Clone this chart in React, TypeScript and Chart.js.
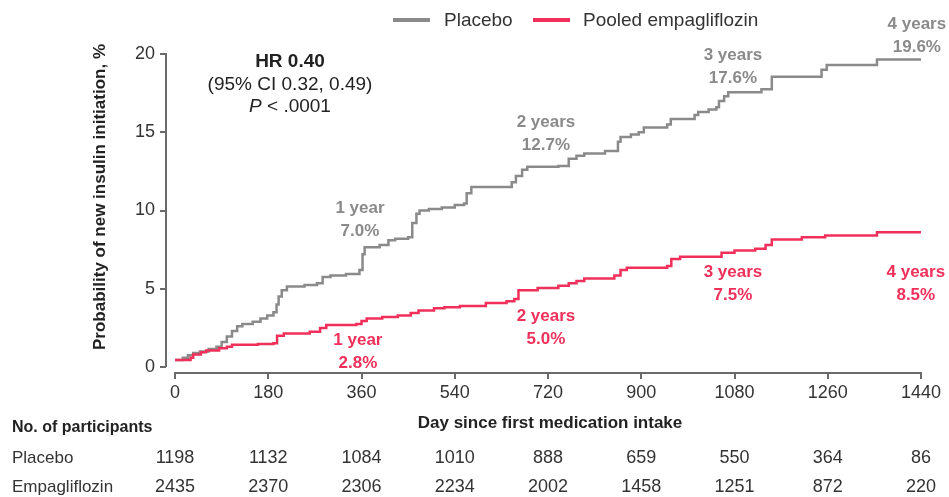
import React, { useEffect, useRef } from 'react';
import { Chart, registerables } from 'chart.js';

Chart.register(...registerables);

// ---- Data ----
const placeboDays = [0, 15, 25, 35, 48, 65, 80, 90, 100, 110, 120, 130, 150, 165, 178, 190, 196, 200, 206, 216, 250, 274, 285, 300, 330, 356, 362, 366, 395, 412, 425, 450, 458, 466, 472, 490, 515, 540, 558, 563, 572, 650, 658, 670, 680, 740, 760, 775, 790, 830, 855, 860, 880, 895, 905, 950, 957, 1003, 1010, 1030, 1045, 1050, 1060, 1068, 1132, 1152, 1248, 1258, 1355, 1440];
const placeboValues = [0.45, 0.6, 0.75, 0.9, 1.0, 1.15, 1.3, 1.6, 1.95, 2.3, 2.6, 2.75, 2.9, 3.1, 3.3, 3.5, 4.0, 4.5, 4.9, 5.15, 5.25, 5.35, 5.75, 5.85, 5.95, 6.2, 7.2, 7.65, 7.8, 8.1, 8.2, 8.3, 9.2, 9.8, 10.0, 10.1, 10.2, 10.35, 10.45, 11.1, 11.5, 11.8, 12.2, 12.6, 12.8, 12.85, 13.3, 13.5, 13.65, 13.8, 14.4, 14.7, 14.85, 15.0, 15.3, 15.5, 15.85, 16.1, 16.3, 16.45, 16.6, 17.0, 17.3, 17.55, 17.75, 18.55, 19.0, 19.3, 19.65, 19.65];

const empaDays = [0, 30, 35, 50, 60, 85, 100, 110, 160, 190, 197, 210, 260, 280, 292, 350, 360, 370, 400, 430, 455, 470, 500, 520, 550, 600, 640, 655, 663, 700, 740, 760, 775, 790, 848, 860, 872, 950, 958, 975, 1055, 1080, 1120, 1140, 1152, 1210, 1255, 1355, 1440];
const empaValues = [0.45, 0.6, 0.8, 0.95, 1.05, 1.2, 1.3, 1.42, 1.47, 1.52, 2.0, 2.15, 2.25, 2.5, 2.68, 2.75, 2.95, 3.1, 3.2, 3.3, 3.45, 3.62, 3.75, 3.82, 3.9, 4.1, 4.2, 4.35, 4.9, 5.05, 5.2, 5.35, 5.5, 5.65, 5.85, 6.2, 6.35, 6.45, 6.9, 7.05, 7.3, 7.45, 7.55, 7.8, 8.15, 8.3, 8.4, 8.62, 8.62];

const xTickValues = [0, 180, 360, 540, 720, 900, 1080, 1260, 1440];
const yTickValues = [0, 5, 10, 15, 20];

const placeboAtRisk = [1198, 1132, 1084, 1010, 888, 659, 550, 364, 86];
const empaAtRisk = [2435, 2370, 2306, 2234, 2002, 1458, 1251, 872, 220];

const yearLabels = ['1 year', '2 years', '3 years', '4 years'];
const placeboYearPct = ['7.0%', '12.7%', '17.6%', '19.6%'];
const empaYearPct = ['2.8%', '5.0%', '7.5%', '8.5%'];

const seriesNames = ['Placebo', 'Pooled empagliflozin'];
const rowNames = ['Placebo', 'Empagliflozin'];

// ---- Style ----
const FONT = "'Liberation Sans', Arial, Helvetica, sans-serif";
const GRAY = '#8a8a8a';
const RED = '#f0305a';
const AXIS = '#6a6a6a';
const TEXT = '#333333';

// annotation anchors (day, %) for first line centre
const placeboLabelAnchors = [[357, 10.16], [716, 15.65], [1077, 19.94], [1432, 21.92]];
const empaLabelAnchors = [[353, 1.73], [716, 3.26], [1077, 6.07], [1430, 6.07]];

const overlayPlugin = {
  id: 'overlay',
  afterDraw(chart: any) {
    const { ctx, chartArea } = chart;
    const x = chart.scales.x;
    const y = chart.scales.y;
    ctx.save();

    // axis lines
    ctx.strokeStyle = AXIS;
    ctx.lineWidth = 2;
    ctx.beginPath();
    ctx.moveTo(x.getPixelForValue(0) - 1, chartArea.bottom);
    ctx.lineTo(x.getPixelForValue(1440) + 1, chartArea.bottom);
    ctx.stroke();
    ctx.beginPath();
    ctx.moveTo(chartArea.left, y.getPixelForValue(0));
    ctx.lineTo(chartArea.left, y.getPixelForValue(20) - 1);
    ctx.stroke();

    // legend
    ctx.textBaseline = 'middle';
    ctx.textAlign = 'left';
    ctx.font = `19px ${FONT}`;
    ctx.lineWidth = 4;
    ctx.strokeStyle = GRAY;
    ctx.beginPath(); ctx.moveTo(393, 20); ctx.lineTo(430, 20); ctx.stroke();
    ctx.fillStyle = TEXT;
    ctx.fillText(seriesNames[0], 444, 21);
    ctx.strokeStyle = RED;
    ctx.beginPath(); ctx.moveTo(533, 20); ctx.lineTo(570, 20); ctx.stroke();
    ctx.fillText(seriesNames[1], 583, 21);

    // HR block
    ctx.textAlign = 'center';
    ctx.fillStyle = '#222';
    ctx.font = `bold 19px ${FONT}`;
    ctx.fillText('HR 0.40', 290, 62);
    ctx.font = `19px ${FONT}`;
    ctx.fillText('(95% CI 0.32, 0.49)', 290, 85);
    const pPart = 'P';
    const rest = ' < .0001';
    ctx.font = `italic 19px ${FONT}`;
    const wP = ctx.measureText(pPart).width;
    ctx.font = `19px ${FONT}`;
    const wR = ctx.measureText(rest).width;
    const startX = 290 - (wP + wR) / 2;
    ctx.textAlign = 'left';
    ctx.font = `italic 19px ${FONT}`;
    ctx.fillText(pPart, startX, 107);
    ctx.font = `19px ${FONT}`;
    ctx.fillText(rest, startX + wP, 107);

    // year annotations
    ctx.textAlign = 'center';
    ctx.font = `bold 17px ${FONT}`;
    const drawLabels = (anchors: number[][], pcts: string[], color: string) => {
      ctx.fillStyle = color;
      anchors.forEach((a, i) => {
        const px = x.getPixelForValue(a[0]);
        const py = y.getPixelForValue(a[1]);
        ctx.fillText(yearLabels[i], px, py);
        ctx.fillText(pcts[i], px, py + 23);
      });
    };
    drawLabels(placeboLabelAnchors, placeboYearPct, GRAY);
    drawLabels(empaLabelAnchors, empaYearPct, RED);

    // axis titles
    ctx.fillStyle = '#222';
    ctx.font = `bold 17px ${FONT}`;
    ctx.fillText('Day since first medication intake', 550, 423);
    ctx.save();
    ctx.translate(100, 197);
    ctx.rotate(-Math.PI / 2);
    ctx.fillText('Probability of new insulin initiation, %', 0, 0);
    ctx.restore();

    // at-risk table
    ctx.textAlign = 'left';
    ctx.fillStyle = '#222';
    ctx.font = `bold 16px ${FONT}`;
    ctx.fillText('No. of participants', 12, 428);
    ctx.font = `17px ${FONT}`;
    ctx.fillStyle = TEXT;
    ctx.fillText(rowNames[0], 12, 458);
    ctx.fillText(rowNames[1], 12, 487);
    ctx.textAlign = 'center';
    ctx.font = `18px ${FONT}`;
    xTickValues.forEach((v, i) => {
      const px = x.getPixelForValue(v);
      ctx.fillText(String(placeboAtRisk[i]), px, 458);
      ctx.fillText(String(empaAtRisk[i]), px, 487);
    });

    ctx.restore();
  },
};

export default function App() {
  const canvasRef = useRef<HTMLCanvasElement | null>(null);

  useEffect(() => {
    document.body.style.margin = '0';
    const canvas = canvasRef.current;
    if (!canvas) return;
    const chart = new Chart(canvas, {
      type: 'line',
      data: {
        datasets: [
          {
            label: seriesNames[1],
            data: empaDays.map((d, i) => ({ x: d, y: empaValues[i] })),
            borderColor: RED,
            borderWidth: 2.5,
            pointRadius: 0,
            stepped: 'before',
            fill: false,
          },
          {
            label: seriesNames[0],
            data: placeboDays.map((d, i) => ({ x: d, y: placeboValues[i] })),
            borderColor: GRAY,
            borderWidth: 2.5,
            pointRadius: 0,
            stepped: 'before',
            fill: false,
          },
        ],
      },
      options: {
        responsive: false,
        animation: false,
        events: [],
        layout: { padding: { top: 54, right: 28, left: 0, bottom: 0 } },
        plugins: {
          legend: { display: false },
          tooltip: { enabled: false },
        },
        scales: {
          x: {
            type: 'linear',
            min: -17.4,
            max: 1440,
            afterBuildTicks: (s: any) => {
              s.ticks = xTickValues.map((v) => ({ value: v }));
            },
            afterFit: (s: any) => {
              s.height = 124;
            },
            grid: { drawOnChartArea: false, drawTicks: true, tickLength: 6, color: AXIS, lineWidth: 2 },
            border: { display: false },
            ticks: {
              padding: 3,
              color: TEXT,
              font: { size: 18, family: FONT },
              maxRotation: 0,
              autoSkip: false,
              callback: (v: any) => String(v),
            },
          },
          y: {
            type: 'linear',
            min: -0.38,
            max: 20,
            afterBuildTicks: (s: any) => {
              s.ticks = yTickValues.map((v) => ({ value: v }));
            },
            afterFit: (s: any) => {
              s.width = 166;
            },
            grid: { drawOnChartArea: false, drawTicks: true, tickLength: 6, color: AXIS, lineWidth: 2 },
            border: { display: false },
            ticks: {
              padding: 5,
              color: TEXT,
              font: { size: 18, family: FONT },
              autoSkip: false,
              callback: (v: any) => String(v),
            },
          },
        },
      },
      plugins: [overlayPlugin],
    });
    return () => chart.destroy();
  }, []);

  return (
    <div style={{ width: 949, height: 497, background: '#fff' }}>
      <canvas ref={canvasRef} width={949} height={497} style={{ display: 'block' }} />
    </div>
  );
}
